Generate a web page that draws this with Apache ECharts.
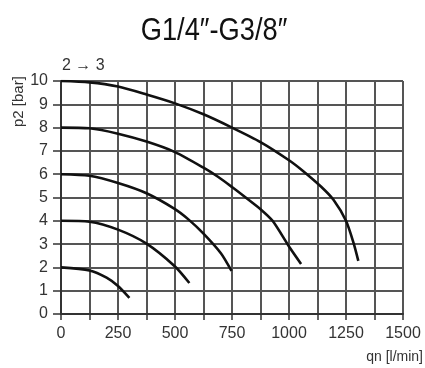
<!DOCTYPE html>
<html><head><meta charset="utf-8">
<script src="https://cdn.jsdelivr.net/npm/echarts@6/dist/echarts.min.js"></script>
<style>html,body{margin:0;padding:0;background:#fff}#c{width:425px;height:368px}</style>
</head><body><div id="c"></div>
<script>
const title = 'G1/4\u2033-G3/8\u2033';
const xTicks = [0, 250, 500, 750, 1000, 1250, 1500];
const yTicks = [0,1,2,3,4,5,6,7,8,9,10];
const curve10 = [[0,10],[125,9.94],[250,9.76],[375,9.42],[500,9.04],[625,8.57],[750,8.0],[875,7.38],[1000,6.6],[1060,6.15],[1140,5.47],[1195,4.9],[1250,4.0],[1283,3.05],[1304,2.28]];
const curve8 = [[0,8],[125,7.97],[250,7.74],[375,7.4],[500,6.95],[625,6.28],[690,5.88],[750,5.45],[810,5.0],[875,4.5],[928,4.0],[1000,2.9],[1053,2.15]];
const curve6 = [[0,6],[125,5.93],[250,5.62],[375,5.18],[500,4.5],[560,4.05],[625,3.45],[702,2.6],[748,1.85]];
const curve4 = [[0,4],[125,3.96],[250,3.62],[375,3.02],[500,2.04],[563,1.33]];
const curve2 = [[0,2],[125,1.87],[200,1.56],[250,1.2],[300,0.69]];

const chart = echarts.init(document.getElementById('c'));
const ff = 'Liberation Sans, Arial, sans-serif';
const lab = {color:'#333', fontFamily:ff, fontSize:16};
const mk = d => ({type:'line', data:d, smooth:0.25, symbol:'none', lineStyle:{color:'#111', width:2.6}});
chart.setOption({
  animation:false,
  graphic:[
    {type:'text', x:214, y:31, scaleX:0.88, style:{text:title, x:0, y:0, align:'center', verticalAlign:'middle', fontFamily:ff, fontSize:31, fill:'#111'}},
    {type:'text', x:62, y:66, style:{text:'2 \u2192 3', verticalAlign:'middle', fontFamily:ff, fontSize:16, fill:'#333'}},
    {type:'text', x:11, y:127, rotation:Math.PI/2, style:{text:'p2 [bar]', fontFamily:ff, fontSize:15, fill:'#333'}},
    {type:'text', x:423, y:357, style:{text:'qn [l/min]', align:'right', verticalAlign:'middle', fontFamily:ff, fontSize:14, fill:'#333'}}
  ],
  grid:{left:61, right:22, top:81, bottom:54},
  xAxis:{type:'value', min:0, max:1500, interval:125,
    axisLine:{lineStyle:{color:'#333', width:2}},
    axisTick:{show:true, length:6, lineStyle:{color:'#333', width:1.5}},
    axisLabel:Object.assign({margin:12, formatter:v => xTicks.includes(v) ? String(v) : ''}, lab),
    splitLine:{lineStyle:{color:'#555', width:2}}},
  yAxis:{type:'value', min:0, max:10, interval:1,
    axisLine:{show:true, lineStyle:{color:'#333', width:2}},
    axisTick:{show:true, length:8, lineStyle:{color:'#333', width:1.5}},
    axisLabel:Object.assign({margin:13, formatter:v => yTicks.includes(v) ? String(v) : ''}, lab),
    splitLine:{lineStyle:{color:'#555', width:2}}},
  series:[mk(curve10), mk(curve8), mk(curve6), mk(curve4), mk(curve2)]
});
</script></body></html>
